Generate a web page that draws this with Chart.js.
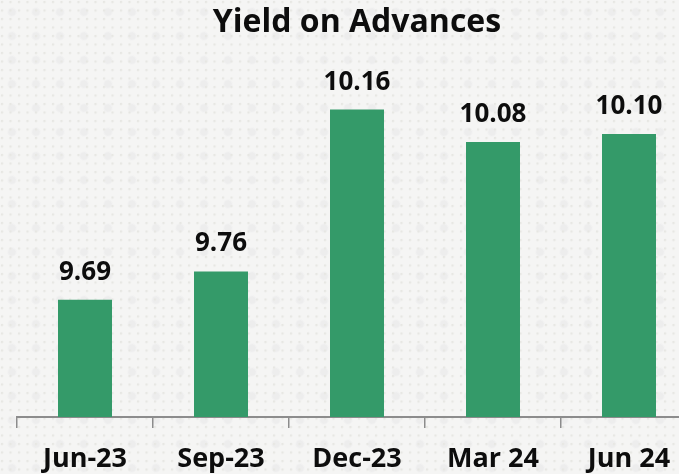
<!DOCTYPE html>
<html>
<head>
<meta charset="utf-8">
<script src="https://cdn.jsdelivr.net/npm/chart.js@4.4.1/dist/chart.umd.min.js"></script>
<style>
  html, body { margin: 0; padding: 0; overflow: hidden; width: 679px; height: 474px; }
  body {
    background-color: #f5f5f4;
    background-image:
      radial-gradient(circle at 2px 2px, #e7e7e3 1px, transparent 1.6px),
      radial-gradient(circle at 12px 12px, #ededed 3px, transparent 5px);
    background-size: 8.5px 8.5px, 24px 24px;
  }
  #wrap { position: absolute; left: 0; top: 0; width: 714px; height: 491px; }
  canvas { display: block; }
</style>
</head>
<body>
<div id="wrap"><canvas id="c" width="714" height="491"></canvas></div>
<script>
const categories = ['Jun-23', 'Sep-23', 'Dec-23', 'Mar 24', 'Jun 24'];
const yieldValues = [9.69, 9.76, 10.16, 10.08, 10.10];
const valueLabels = ['9.69', '9.76', '10.16', '10.08', '10.10'];
const chartTitle = 'Yield on Advances';

const FONT = '"Open Sans", Lato, sans-serif';

const valueLabelPlugin = {
  id: 'valueLabels',
  afterDatasetsDraw(chart) {
    const ctx = chart.ctx;
    const meta = chart.getDatasetMeta(0);
    ctx.save();
    ctx.font = 'bold 26px ' + FONT;
    ctx.fillStyle = '#0d0d0d';
    ctx.textAlign = 'center';
    ctx.textBaseline = 'alphabetic';
    meta.data.forEach((bar, i) => {
      ctx.fillText(valueLabels[i], bar.x, bar.y - 20);
    });
    ctx.restore();
  }
};

new Chart(document.getElementById('c'), {
  type: 'bar',
  data: {
    labels: categories,
    datasets: [{
      data: yieldValues,
      backgroundColor: '#349a69',
      borderWidth: 0,
      categoryPercentage: 1,
      barPercentage: 0.397
    }]
  },
  options: {
    responsive: false,
    devicePixelRatio: 1,
    animation: false,
    layout: { padding: { left: 17, right: 17, top: 0, bottom: 0 } },
    plugins: {
      legend: { display: false },
      tooltip: { enabled: false },
      title: {
        display: true,
        text: chartTitle,
        color: '#0d0d0d',
        font: { family: FONT, size: 32, weight: 'bold', lineHeight: 1.2 },
        padding: { top: 4, bottom: 10.6 }
      }
    },
    scales: {
      y: { display: false, min: 9.4, max: 10.3 },
      x: {
        grid: { offset: true, drawOnChartArea: false, drawTicks: true, tickLength: 11, color: '#8c8c8c', lineWidth: 1.5 },
        border: { display: true, color: '#8c8c8c', width: 2 },
        ticks: {
          color: '#0d0d0d',
          padding: 15.3,
          maxRotation: 0,
          font: { family: FONT, size: 27, weight: 'bold', lineHeight: 1.2 }
        }
      }
    }
  },
  plugins: [valueLabelPlugin]
});
</script>
</body>
</html>
